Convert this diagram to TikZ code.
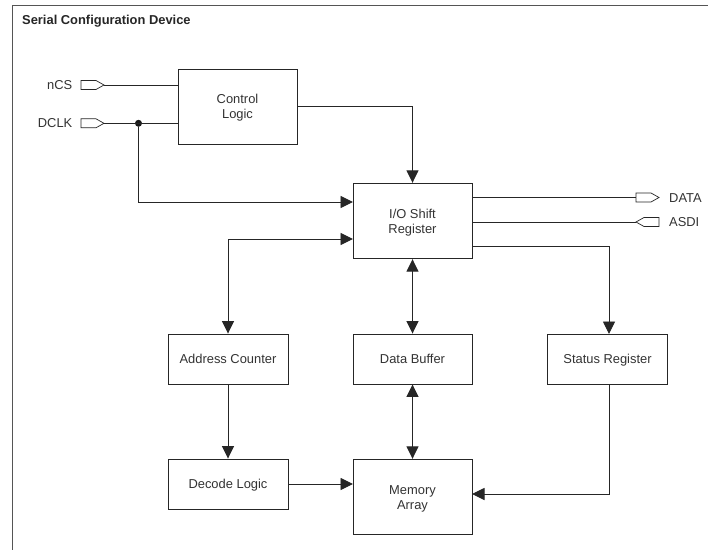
\documentclass[tikz,border=0pt]{standalone}
\usepackage{fontspec}
\setmainfont{Liberation Sans}
\usetikzlibrary{arrows.meta,calc}
\definecolor{ink}{HTML}{262626}
\definecolor{txt}{HTML}{333333}
\definecolor{frameg}{HTML}{555555}
\newcommand{\oneline}[1]{\raisebox{-4.9bp}[0pt][0pt]{#1}}
\newcommand{\twolines}[2]{\raisebox{-12.4bp}[0pt][0pt]{\begin{tabular}[b]{@{}c@{}}#1\\#2\end{tabular}}}
\tikzset{
  block/.style={draw=ink,line width=0.9bp,fill=white,inner sep=0pt,text=txt,
    font=\fontsize{12.9bp}{15bp}\selectfont},
  wire/.style={draw=ink,line width=0.95bp},
  arr/.style={wire,-{Triangle[length=12.5bp,width=12bp]}},
  darr/.style={wire,{Triangle[length=12.5bp,width=12bp]}-{Triangle[length=12.5bp,width=12bp]}},
  pinbox/.style={draw=ink,line width=0.7bp,fill=white},
  lab/.style={inner sep=0pt,text=txt,font=\fontsize{12.9bp}{15bp}\selectfont},
  junction/.style={circle,fill=black!90,inner sep=0pt,minimum size=7bp},
}
\begin{document}
\begin{tikzpicture}[x=1bp,y=-1bp]
\useasboundingbox (0,0) rectangle (708,550);
\fill[white] (0,0) rectangle (708,550);
\draw[frameg,line width=1bp] (12.5,550) -- (12.5,6) -- (708,6);
\node[anchor=west,inner sep=0pt,text=ink,font=\fontsize{12.9bp}{15bp}\selectfont\bfseries] (title) at (22,21.5) {Serial Configuration Device};

\node[block,minimum width=119bp,minimum height=75bp] (ctl) at (237.5,106.5) {\twolines{Control}{Logic}};
\node[block,minimum width=119bp,minimum height=75.5bp] (io) at (412.5,221) {\twolines{I/O Shift}{Register}};
\node[block,minimum width=120bp,minimum height=50bp] (addr) at (228,359) {\oneline{Address Counter}};
\node[block,minimum width=119bp,minimum height=50bp] (buf) at (412.5,359) {\oneline{Data Buffer}};
\node[block,minimum width=120bp,minimum height=50bp] (stat) at (607.5,359) {\oneline{Status Register}};
\node[block,minimum width=120bp,minimum height=50bp] (dec) at (228,484) {\oneline{Decode Logic}};
\node[block,minimum width=119bp,minimum height=75.5bp] (mem) at (412.5,497) {\twolines{Memory}{Array}};

\node[lab,anchor=east] (ncsl) at (72.5,85.5) {nCS};
\node[lab,anchor=east] (dclkl) at (72.5,123.5) {DCLK};
\node[lab,anchor=west] (datal) at (669,198.5) {DATA};
\node[lab,anchor=west] (asdil) at (669,222.5) {ASDI};

\coordinate (ncs) at (104,85);
\coordinate (dclk) at (104,123.3);
\coordinate (data) at (636,197.5);
\coordinate (asdi) at (636,222);
\coordinate (ioA) at (353,202);
\coordinate (ioB) at (353,239);
\coordinate (ioS) at (472,246);
\coordinate (memS) at (472,494);
\coordinate (memD) at (353,484);
\coordinate (statN) at (609,334);
\coordinate (statS) at (609,384);
\node[junction] (dot) at (138.5,123.3) {};

\draw[wire] (ncs) -- (ctl.west |- ncs);
\draw[wire] (dclk) -- (ctl.west |- dclk);
\draw[arr] (dot) |- (ioA);
\draw[arr] (ctl.east) -| (io.north);
\draw[wire] (io.east |- data) -- (data);
\draw[wire] (asdi) -- (io.east |- asdi);
\draw[arr] (ioS) -| (statN);
\draw[darr] (ioB) -| (addr.north);
\draw[darr] (io.south) -- (buf.north);
\draw[darr] (buf.south) -- (mem.north);
\draw[arr] (addr.south) -- (dec.north);
\draw[arr] (dec.east) -- (memD);
\draw[arr] (statS) |- (memS);

\draw[pinbox] (81,80.5) -- (96,80.5) -- (104,85) -- (96,89.5) -- (81,89.5) -- cycle;
\draw[pinbox] (81,118.8) -- (96,118.8) -- (104,123.3) -- (96,127.8) -- (81,127.8) -- cycle;
\draw[pinbox] (636,193) -- (651,193) -- (659,197.5) -- (651,202) -- (636,202) -- cycle;
\draw[pinbox] (659,217.5) -- (644,217.5) -- (636,222) -- (644,226.5) -- (659,226.5) -- cycle;
\end{tikzpicture}
\end{document}
